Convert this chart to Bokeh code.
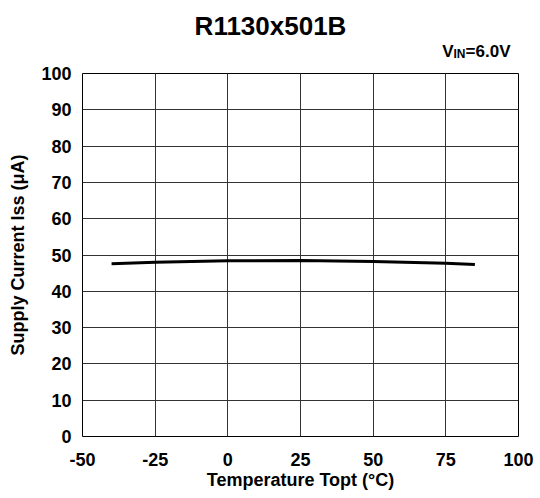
from bokeh.plotting import figure
from bokeh.models import Range1d, FixedTicker
from bokeh.layouts import column
from bokeh.core.properties import value
from bokeh.embed import file_html
from bokeh.resources import INLINE

# Data
temperature = [-40, -25, 0, 25, 50, 75, 85]
supply_current = [47.6, 48.0, 48.4, 48.5, 48.2, 47.7, 47.4]

x_ticks = [-50, -25, 0, 25, 50, 75, 100]
x_tick_labels = ["-50", "-25", "0", "25", "50", "75", "100"]
y_ticks = [0, 10, 20, 30, 40, 50, 60, 70, 80, 90, 100]

title_text = "R1130x501B"
cond_v = "V"
cond_sub = "IN"
cond_val = "=6.0V"
x_label = "Temperature Topt (°C)"
y_label = "Supply Current Iss (μA)"

FONT = "Liberation Sans"
HEADER_H = 62
BORDER_L = 82
BORDER_R = 22

# ---- header (title + condition text), page-pixel coordinates ----
hdr = figure(width=540, height=HEADER_H, output_backend="svg", toolbar_location=None,
             x_range=Range1d(BORDER_L, 540 - BORDER_R), y_range=Range1d(HEADER_H, 0),
             min_border=0, min_border_left=BORDER_L, min_border_right=BORDER_R,
             min_border_top=0, min_border_bottom=0)
hdr.axis.visible = False
hdr.grid.visible = False
hdr.outline_line_color = None
hdr.background_fill_color = "white"
hdr.border_fill_color = "white"

txt = dict(text_font=value(FONT), text_font_style="bold", text_color="black",
           text_baseline="middle")
hdr.text(x=[270], y=[25], text=[title_text], text_align="center",
         text_font_size="26px", **txt)
hdr.text(x=[510], y=[51], text=[cond_val], text_align="right",
         text_font_size="17px", **txt)
hdr.text(x=[465], y=[53], text=[cond_sub], text_align="right",
         text_font_size="12px", **txt)
hdr.text(x=[453], y=[51], text=[cond_v], text_align="right",
         text_font_size="17px", **txt)

# ---- main chart ----
p = figure(width=540, height=498 - HEADER_H, output_backend="svg", toolbar_location=None,
           x_range=Range1d(-50, 100), y_range=Range1d(0, 100),
           min_border_left=BORDER_L, min_border_right=BORDER_R,
           min_border_top=73 - HEADER_H, min_border_bottom=62)

p.outline_line_color = "black"
p.outline_line_width = 1
p.background_fill_color = "white"
p.border_fill_color = "white"

p.xaxis.ticker = FixedTicker(ticks=x_ticks)
p.xaxis.major_label_overrides = {t: s for t, s in zip(x_ticks, x_tick_labels)}
p.yaxis.ticker = FixedTicker(ticks=y_ticks)
for ax in (p.xaxis[0], p.yaxis[0]):
    ax.axis_line_color = None
    ax.major_tick_line_color = None
    ax.minor_tick_line_color = None
    ax.major_tick_out = 0
    ax.major_tick_in = 0
    ax.minor_tick_out = 0
    ax.minor_tick_in = 0
    ax.major_label_text_font = FONT
    ax.major_label_text_font_style = "bold"
    ax.major_label_text_font_size = "18px"
    ax.major_label_text_color = "black"
    ax.axis_label_text_font = FONT
    ax.axis_label_text_font_style = "bold"
    ax.axis_label_text_font_size = "18px"
    ax.axis_label_text_color = "black"

p.xaxis.axis_label = x_label
p.yaxis.axis_label = y_label
p.xaxis.major_label_standoff = 16
p.xaxis.axis_label_standoff = 1
p.yaxis.major_label_standoff = 11
p.yaxis.axis_label_standoff = 10

p.xgrid.grid_line_color = "#333333"
p.ygrid.grid_line_color = "#333333"
p.xgrid.grid_line_width = 1
p.ygrid.grid_line_width = 1

p.line(temperature, supply_current, line_color="black", line_width=3)

layout = column(hdr, p, spacing=0)
open("out.html", "w").write(file_html(layout, INLINE))
